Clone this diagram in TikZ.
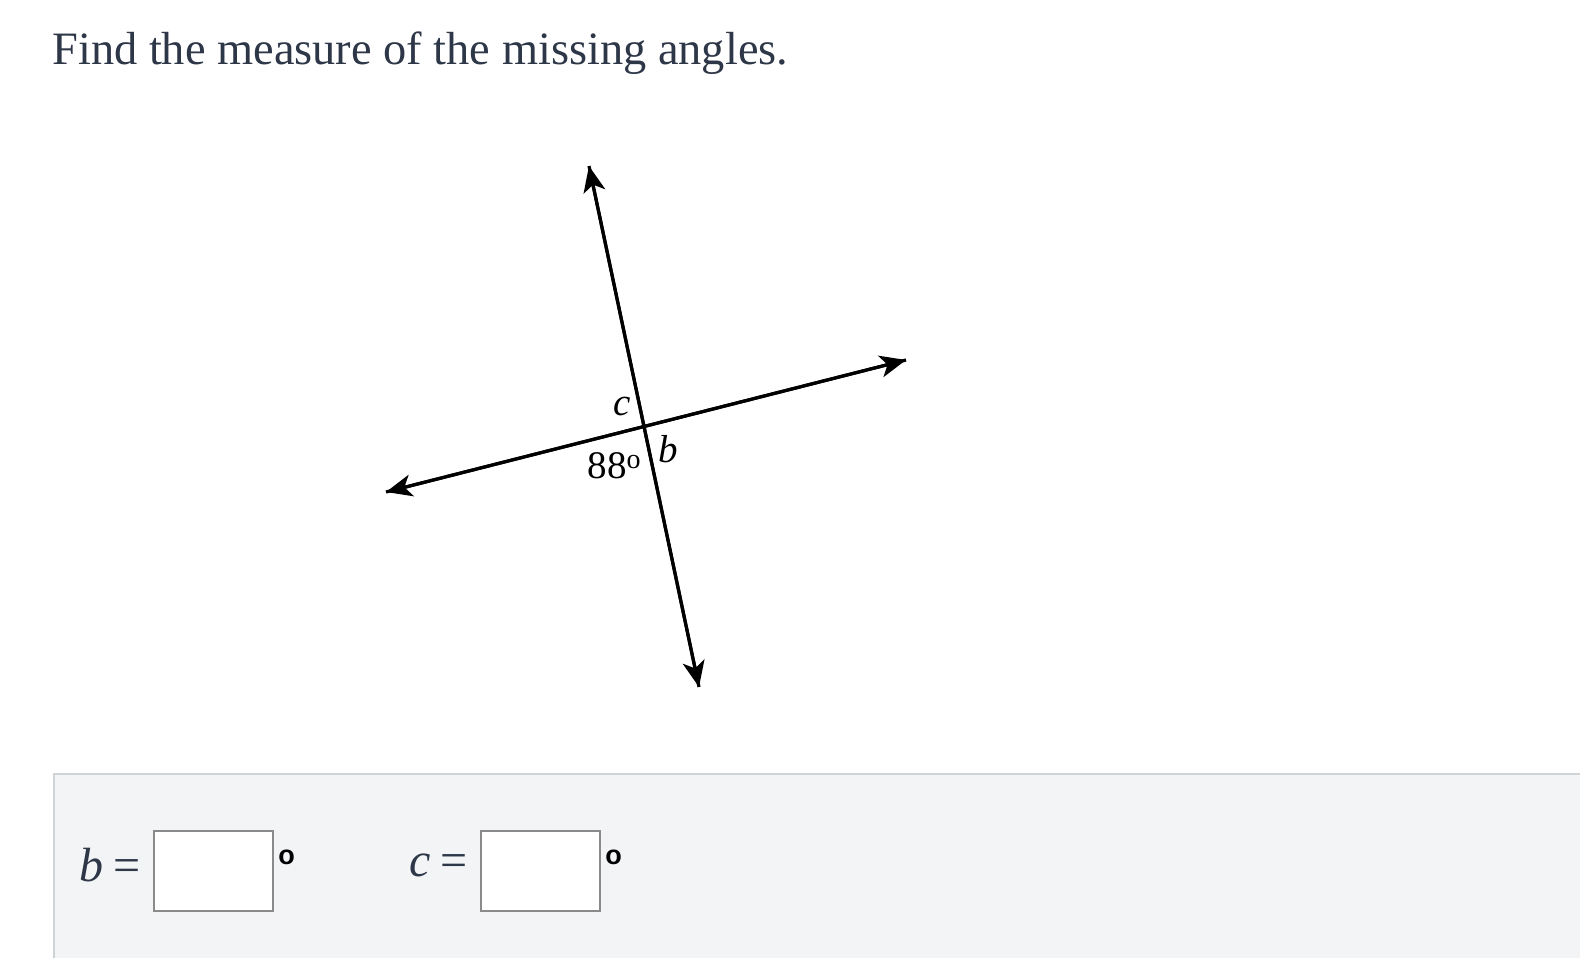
\documentclass[tikz,border=0pt]{standalone}
\usepackage{fontspec}
\setmainfont{Liberation Serif}
\newfontfamily\degfont{Liberation Sans}
\usetikzlibrary{arrows.meta, positioning}
\definecolor{ink}{HTML}{2D3748}
\definecolor{panelgray}{HTML}{F3F4F6}
\definecolor{panelline}{HTML}{D0D3D6}
\definecolor{boxline}{HTML}{8A8A8A}

\begin{document}
\begin{tikzpicture}
  [
    x=0.5pt, y=-0.5pt,
    Title/.style={anchor=base west, text=ink, font=\fontsize{23.2}{27}\selectfont, inner sep=0pt},
    Ray/.style={-{Stealth[length=13pt, width=11pt, inset=3.5pt]}, line width=1.6pt},
    Angle/.style={font=\fontsize{19.5}{22}\selectfont, inner sep=0pt},
    Answer/.style={text=ink, font=\fontsize{24}{28}\selectfont, inner sep=0pt},
    Blank/.style={draw=boxline, line width=1pt, fill=white, minimum width=59.5pt, minimum height=40pt, inner sep=0pt},
    Degree/.style={anchor=north west, font=\degfont\bfseries\fontsize{13.5}{15}\selectfont, inner sep=0pt}
  ]
  \useasboundingbox (0, 0) rectangle (1580, 958);

  % Title
  \node[Title] (title) at(52, 64) {Find the measure of the missing angles.};

  % Lines
  \coordinate (top) at(589, 166);
  \coordinate (bottom) at(699, 687);
  \coordinate (left) at(386, 492);
  \coordinate (right) at(906, 360);

  \path [Ray, draw] (bottom) -- (top);
  \path [Ray, draw] (top) -- (bottom);
  \path [Ray, draw] (right) -- (left);
  \path [Ray, draw] (left) -- (right);

  % Angle labels
  \node[Angle] (labc) at(622, 406) {\itshape c};
  \node[Angle] (labb) at(668, 449) {\itshape b};
  \node[Angle] (lab88) at(614, 466) {88\raisebox{0.55ex}{\fontsize{14}{14}\selectfont o}};

  % Answer panel
  \node[draw=panelline, line width=1pt, fill=panelgray, anchor=north west,
        minimum width=800pt, minimum height=100pt, inner sep=0pt] (panel) at(53, 773) {};

  \node[Blank] (boxb) at(213.5, 871) {};
  \node[Blank] (boxc) at(540.5, 871) {};

  \node[Answer, left=6pt of boxb, yshift=3pt] (labelb) {\itshape b\hspace{5pt}\upshape=};
  \node[Answer, left=6pt of boxc, yshift=3pt] (labelc) {\itshape c\hspace{5pt}\upshape=};

  \node[Degree, right=2pt of boxb.north east, anchor=north west, yshift=-10pt] (degb) {o};
  \node[Degree, right=2pt of boxc.north east, anchor=north west, yshift=-10pt] (degc) {o};

\end{tikzpicture}
\end{document}
